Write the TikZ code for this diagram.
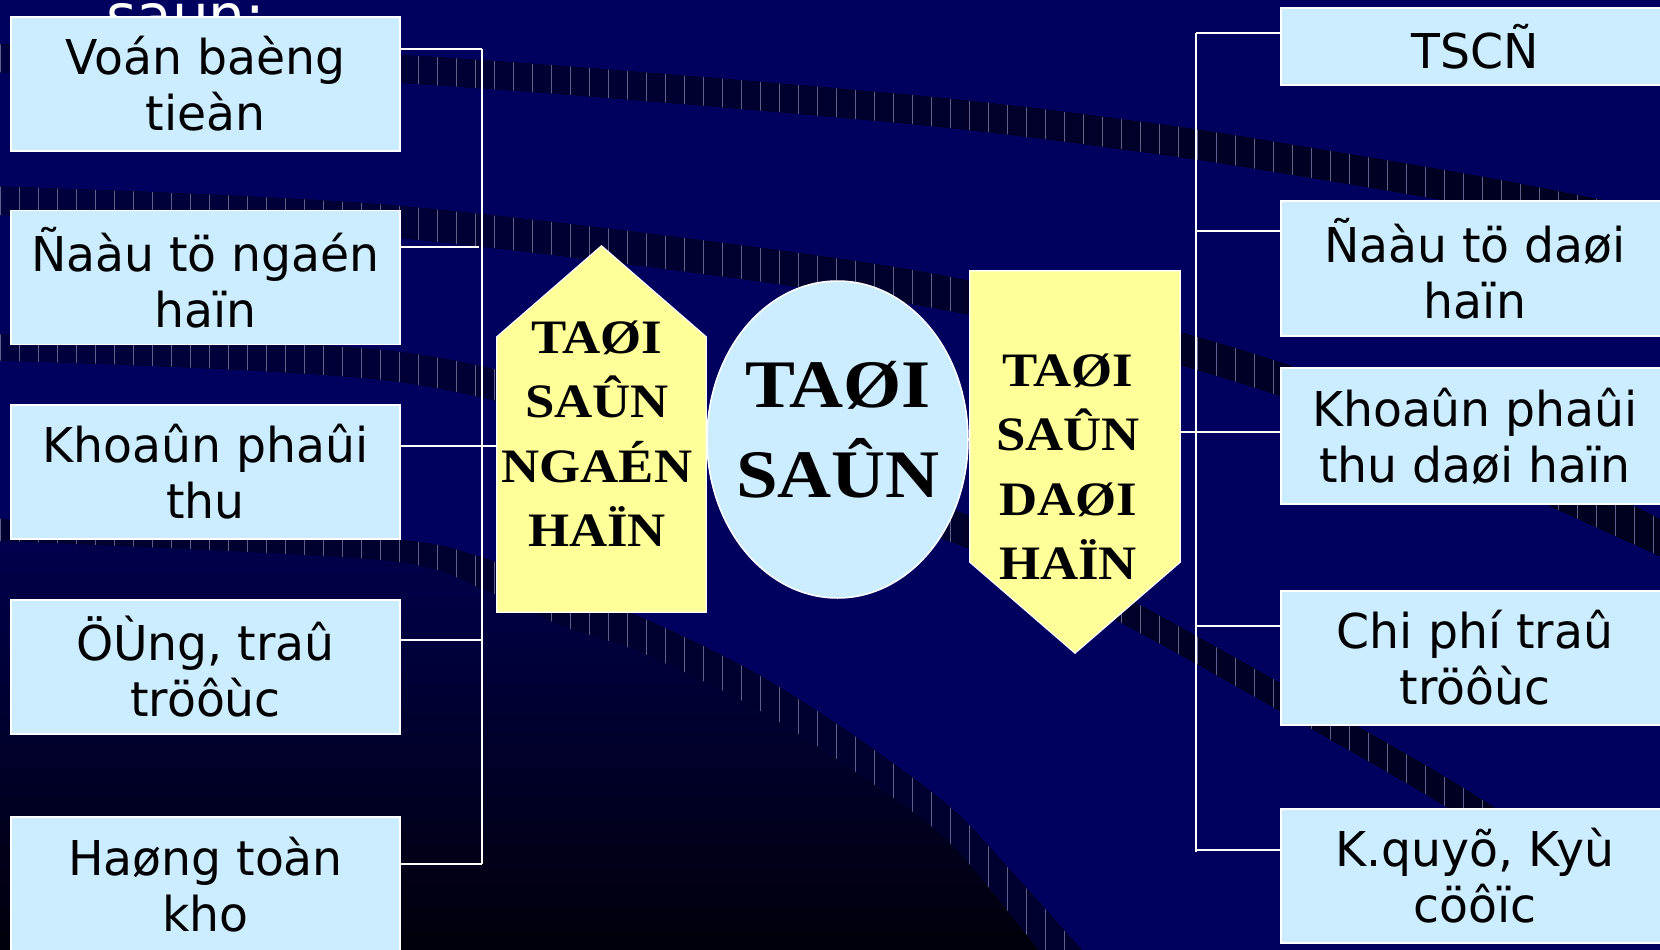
\documentclass[tikz,border=0pt]{standalone}
\usepackage{fontspec}
\newfontfamily\boxfont{DejaVu Sans}[FakeStretch=0.985]
\newfontfamily\serifbf{Liberation Serif}[FakeStretch=1.1]
\usetikzlibrary{shapes.geometric}
\definecolor{navy}{RGB}{0,0,95}
\definecolor{bandL}{RGB}{0,0,62}
\definecolor{bandR}{RGB}{0,0,30}
\definecolor{bandD}{RGB}{0,0,48}
\definecolor{darkTop}{RGB}{0,0,80}
\definecolor{darkBot}{RGB}{0,0,8}
\definecolor{stripecol}{RGB}{95,95,140}
\definecolor{boxblue}{RGB}{204,236,255}
\definecolor{yel}{RGB}{255,255,153}
\newcommand\ribbon[2]{%
  \begin{scope}
    \clip #1;
    \fill[#2] (-20,-20) rectangle (1680,970);
    \foreach \sx in {0,19,...,1672} \draw[stripeline] (\sx,-20) -- (\sx,970);
  \end{scope}}
\tikzset{
  stripeline/.style={draw=stripecol, line width=0.8pt},
  conn/.style={draw=white, line width=2pt},
  lbox/.style={draw=white, line width=1.5pt, fill=boxblue, minimum width=389pt,
    minimum height=134pt, inner sep=0pt, align=center, text=black,
    font=\boxfont\fontsize{48}{56}\selectfont},
  rbox/.style={lbox, minimum width=388pt},
  yshape/.style={fill=yel, draw=white, line width=1.2pt},
  body/.style={inner sep=0pt, draw=none},
  bigserif/.style={align=center, inner sep=0pt, text=black,
    font=\serifbf\bfseries\fontsize{68}{90}\selectfont},
  midserif/.style={align=center, inner sep=0pt, text=black,
    font=\serifbf\bfseries\fontsize{48}{64.5}\selectfont},
}
\begin{document}
\begin{tikzpicture}[x=1pt,y=-1pt]
\useasboundingbox (0,0) rectangle (1660,950);
\begin{scope}
\clip (0,0) rectangle (1660,950);
% background
\fill[navy] (-20,-20) rectangle (1680,970);
% ribbons
\ribbon{plot[smooth] coordinates {(-20,44) (400,55) (900,94) (1150,123) (1300,146) (1500,180) (1680,216)}
  -- plot[smooth] coordinates {(1680,246) (1500,210) (1300,176) (1150,153) (900,123) (400,83) (-20,72)} -- cycle}
  {left color=bandL, right color=bandR}
\ribbon{plot[smooth] coordinates {(-20,186) (400,206) (900,268) (1190,335) (1400,405) (1620,500) (1680,530)}
  -- plot[smooth] coordinates {(1680,565) (1620,538) (1400,440) (1190,368) (900,302) (400,238) (-20,214)} -- cycle}
  {left color=bandL, right color=bandR}
\ribbon{plot[smooth] coordinates {(-20,334) (400,352) (700,425) (967,515) (1127,598) (1280,683) (1450,780) (1680,925)}
  -- plot[smooth] coordinates {(1680,955) (1450,809) (1280,711) (1127,626) (967,548) (700,458) (400,382) (-20,360)} -- cycle}
  {left color=bandL, right color=bandR}
% dark lower-left region
\fill[top color=darkTop, bottom color=darkBot]
  plot[smooth] coordinates {(-20,518) (380,538) (480,557) (560,590) (640,617) (750,670) (850,733) (950,807) (1010,870) (1095,965)}
  -- (-20,965) -- cycle;
\ribbon{plot[smooth] coordinates {(-20,518) (380,538) (480,557) (560,590) (640,617) (750,670) (850,733) (950,807) (1010,870) (1095,965)}
  -- plot[smooth] coordinates {(1050,965) (950,843) (850,768) (750,705) (640,652) (560,625) (480,588) (380,560) (-20,540)} -- cycle}
  {fill=bandD}
% title fragment
\node[anchor=base west, inner sep=0pt, text=white, font=\boxfont\fontsize{59}{66}\selectfont] (title) at (106,37) {saûn:};
% left boxes
\node[lbox] (l1) at (205.5,84) {Voán baèng\\tieàn};
\node[lbox] (l2) at (205.5,277.5) {Ñaàu tö ngaén\\haïn};
\node[lbox] (l3) at (205.5,472) {Khoaûn phaûi\\thu};
\node[lbox] (l4) at (205.5,667) {ÖÙng, traû\\tröôùc};
\node[lbox, minimum height=135pt] (l5) at (205.5,884.5) {Haøng toàn\\kho};
% right boxes
\node[rbox, minimum height=77pt] (r1) at (1475,46.5) {TSCÑ};
\node[rbox, minimum height=135pt] (r2) at (1475,268.5) {Ñaàu tö daøi\\haïn};
\node[rbox, minimum height=136pt] (r3) at (1475,436) {Khoaûn phaûi\\thu daøi haïn};
\node[rbox] (r4) at (1475,658) {Chi phí traû\\tröôùc};
\node[rbox] (r5) at (1475,876) {K.quyõ, Kyù\\cöôïc};
% shape bodies
\node[body, minimum width=209pt, minimum height=275pt] (up) at (601.5,474.5) {};
\node[body, minimum width=210pt, minimum height=291pt] (dn) at (1075,416.5) {};
% connectors left
\coordinate (lbtop) at (482,49);
\coordinate (lbbot) at (482,864);
\coordinate (l2end) at (479,247);
\coordinate (l3y) at (0,446);
\coordinate (l4end) at (482,640);
\draw[conn] (lbtop) -- (lbbot);
\draw[conn] (l1.east |- lbtop) -- (lbtop);
\draw[conn] (l2.east |- l2end) -- (l2end);
\draw[conn] (l3.east |- l3y) -- (up.west |- l3y);
\draw[conn] (l4.east |- l4end) -- (l4end);
\draw[conn] (l5.east |- lbbot) -- (lbbot);
% connectors right
\coordinate (rbtop) at (1196,33);
\coordinate (rbbot) at (1196,852);
\coordinate (r2y) at (1196,231);
\coordinate (r3y) at (0,432);
\coordinate (r4y) at (1196,626);
\coordinate (r5y) at (1196,850);
\draw[conn] (rbtop) -- (rbbot);
\draw[conn] (rbtop) -- (r1.west |- rbtop);
\draw[conn] (r2y) -- (r2.west |- r2y);
\draw[conn] (dn.east |- r3y) -- (r3.west |- r3y);
\draw[conn] (r4y) -- (r4.west |- r4y);
\draw[conn] (r5y) -- (r5.west |- r5y);
% yellow shapes
\filldraw[yshape] (up.south west) -- (up.north west) -- ([yshift=91pt]up.north) -- (up.north east) -- (up.south east) -- cycle;
\filldraw[yshape] (dn.north west) -- (dn.north east) -- (dn.south east) -- ([yshift=-91pt]dn.south) -- (dn.south west) -- cycle;
\node[midserif] (uptxt) at (597,433.5) {TAØI\\SAÛN\\NGAÉN\\HAÏN};
\node[midserif] (dntxt) at (1068,466.5) {TAØI\\SAÛN\\DAØI\\HAÏN};
% centre ellipse
\node[ellipse, draw=white, line width=1.5pt, fill=boxblue, minimum width=261pt, minimum height=317pt, inner sep=0pt] (mid) at (837.5,439.5) {};
\node[bigserif] (midtxt) at (838,429.5) {TAØI\\SAÛN};
\end{scope}
\end{tikzpicture}
\end{document}
